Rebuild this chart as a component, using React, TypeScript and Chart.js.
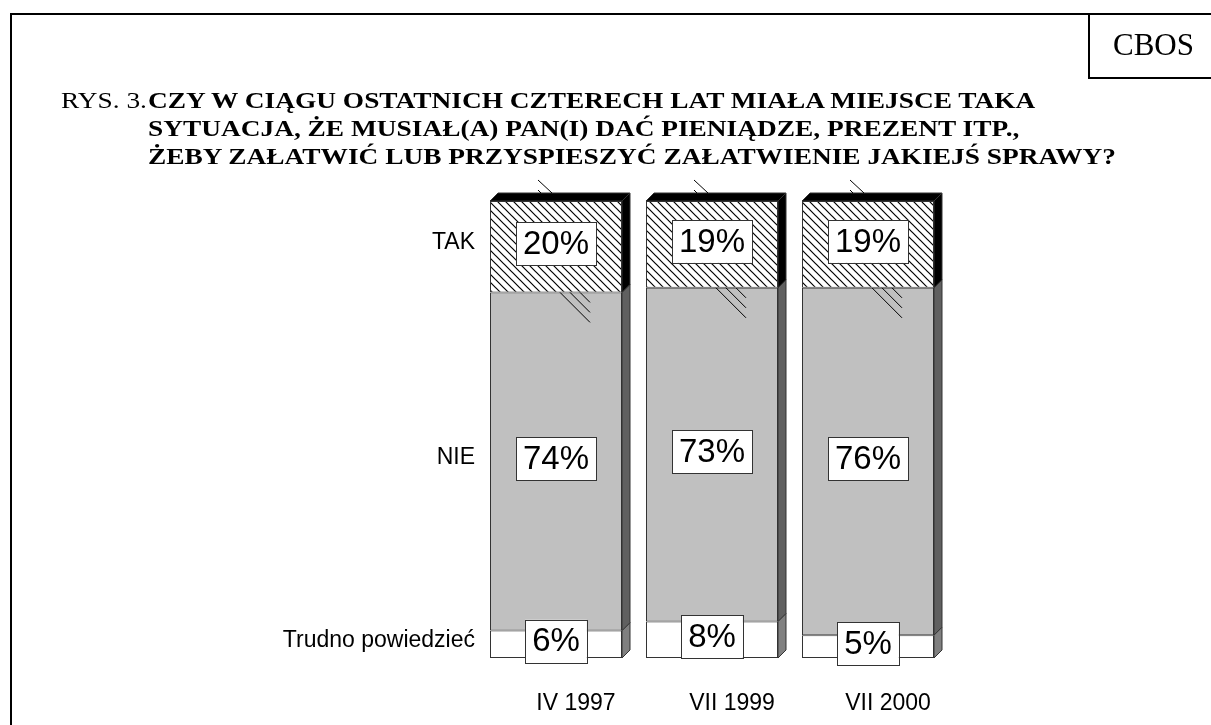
import React, { useEffect, useRef } from 'react';
import { Chart, registerables } from 'chart.js';

Chart.register(...registerables);

const categories = ['IV 1997', 'VII 1999', 'VII 2000'];
const seriesNames = ['Trudno powiedzieć', 'NIE', 'TAK'];
const trudnoValues = [6, 8, 5];
const nieValues = [74, 73, 76];
const takValues = [20, 19, 19];

const SANS = '"Liberation Sans", Arial, sans-serif';
const SERIF = '"Liberation Serif", "Times New Roman", serif';
const DEPTH = 8;
const sideColors = ['#808080', '#606060', '#000000'];

function makeHatch(ctx: CanvasRenderingContext2D): CanvasPattern | string {
  const c = document.createElement('canvas');
  c.width = 8;
  c.height = 8;
  const g = c.getContext('2d');
  if (!g) return '#fff';
  g.fillStyle = '#fff';
  g.fillRect(0, 0, 8, 8);
  g.strokeStyle = '#000';
  g.lineWidth = 1.2;
  g.beginPath();
  g.moveTo(-2, -2);
  g.lineTo(10, 10);
  g.moveTo(-2, 6);
  g.lineTo(2, 10);
  g.moveTo(6, -2);
  g.lineTo(10, 2);
  g.stroke();
  return ctx.createPattern(c, 'repeat') || '#fff';
}

const boxes3d = {
  id: 'boxes3d',
  afterDatasetsDraw(chart: any) {
    const ctx: CanvasRenderingContext2D = chart.ctx;
    const n = chart.data.labels.length;
    ctx.save();
    for (let j = 0; j < n; j++) {
      let topY = Infinity;
      let left = 0;
      let right = 0;
      for (let di = 0; di < chart.data.datasets.length; di++) {
        const el = chart.getDatasetMeta(di).data[j];
        const p = el.getProps(['x', 'y', 'base', 'width'], true);
        const r = p.x + p.width / 2;
        left = p.x - p.width / 2;
        right = r;
        const t = Math.min(p.y, p.base);
        const b = Math.max(p.y, p.base);
        topY = Math.min(topY, t);
        ctx.beginPath();
        ctx.moveTo(r, b);
        ctx.lineTo(r + DEPTH, b - DEPTH);
        ctx.lineTo(r + DEPTH, t - DEPTH);
        ctx.lineTo(r, t);
        ctx.closePath();
        ctx.fillStyle = sideColors[di];
        ctx.fill();
        ctx.strokeStyle = '#333';
        ctx.lineWidth = 1;
        ctx.stroke();
      }
      // top face
      ctx.beginPath();
      ctx.moveTo(left, topY);
      ctx.lineTo(left + DEPTH, topY - DEPTH);
      ctx.lineTo(right + DEPTH, topY - DEPTH);
      ctx.lineTo(right, topY);
      ctx.closePath();
      ctx.fillStyle = '#000';
      ctx.fill();
      ctx.stroke();

      // stray hatch strokes (as in the original print)
      const cx = (left + right) / 2;
      const tak = chart.getDatasetMeta(2).data[j].getProps(['y', 'base'], true);
      const bnd = Math.max(tak.y, tak.base);
      ctx.strokeStyle = '#000';
      ctx.lineWidth = 1;
      ctx.beginPath();
      ctx.moveTo(cx - 18, topY - 21);
      ctx.lineTo(cx - 4, topY - 8);
      ctx.moveTo(cx - 18, topY - 11);
      ctx.lineTo(cx - 15, topY - 8);
      ctx.moveTo(cx + 4, bnd);
      ctx.lineTo(cx + 34, bnd + 30);
      ctx.moveTo(cx + 14, bnd);
      ctx.lineTo(cx + 34, bnd + 20);
      ctx.moveTo(cx + 24, bnd);
      ctx.lineTo(cx + 34, bnd + 10);
      ctx.stroke();
    }

    // value labels
    ctx.font = `33px ${SANS}`;
    ctx.textAlign = 'center';
    ctx.textBaseline = 'middle';
    chart.data.datasets.forEach((ds: any, di: number) => {
      const meta = chart.getDatasetMeta(di);
      meta.data.forEach((el: any, j: number) => {
        const p = el.getProps(['x', 'y', 'base'], true);
        const cy = (p.y + p.base) / 2 - 3;
        const txt = `${ds.data[j]}%`;
        const w = ctx.measureText(txt).width + 14;
        const h = 43;
        ctx.fillStyle = '#fff';
        ctx.fillRect(p.x - w / 2, cy - h / 2, w, h);
        ctx.strokeStyle = '#333';
        ctx.lineWidth = 1;
        ctx.strokeRect(Math.round(p.x - w / 2) + 0.5, Math.round(cy - h / 2) + 0.5, Math.round(w), h);
        ctx.fillStyle = '#000';
        ctx.fillText(txt, p.x, cy + 1);
      });
    });

    // series names at the left of the first column
    ctx.font = `23px ${SANS}`;
    ctx.textAlign = 'right';
    chart.data.datasets.forEach((ds: any, di: number) => {
      const el = chart.getDatasetMeta(di).data[0];
      const p = el.getProps(['x', 'y', 'base', 'width'], true);
      const cy = (p.y + p.base) / 2;
      ctx.fillStyle = '#000';
      ctx.fillText(ds.label, p.x - p.width / 2 - 15, cy - 4);
    });
    ctx.restore();
  },
};

const titleStyle: React.CSSProperties = {
  position: 'absolute',
  top: 86,
  fontFamily: SERIF,
  fontSize: 24,
  lineHeight: '28px',
  whiteSpace: 'nowrap',
  transform: 'scaleX(1.14)',
  transformOrigin: 'left top',
};

export default function App() {
  const ref = useRef<HTMLCanvasElement>(null);

  useEffect(() => {
    const canvas = ref.current;
    if (!canvas) return;
    const ctx = canvas.getContext('2d');
    if (!ctx) return;
    const hatch = makeHatch(ctx);
    const chart = new Chart(canvas, {
      type: 'bar',
      data: {
        labels: categories,
        datasets: [
          { label: seriesNames[0], data: trudnoValues, backgroundColor: '#ffffff' },
          { label: seriesNames[1], data: nieValues, backgroundColor: '#c0c0c0' },
          { label: seriesNames[2], data: takValues, backgroundColor: hatch as any },
        ].map((d) => ({
          ...d,
          borderColor: '#333',
          borderWidth: 1,
          borderSkipped: false,
          categoryPercentage: 1,
          barPercentage: 132 / 156,
        })),
      },
      options: {
        animation: false,
        responsive: false,
        maintainAspectRatio: false,
        layout: { padding: { left: 478, right: 265, top: 201, bottom: 0 } },
        plugins: {
          legend: { display: false },
          tooltip: { enabled: false },
          title: { display: false },
        },
        scales: {
          x: {
            stacked: true,
            grid: { display: false, drawTicks: false },
            border: { display: false },
            ticks: { color: '#000', font: { family: SANS, size: 23 }, padding: 32, labelOffset: 20 },
            afterFit: (s: any) => {
              s.height = 67;
            },
          },
          y: {
            stacked: true,
            display: false,
            min: 0,
            max: 100,
          },
        },
      },
      plugins: [boxes3d],
    });
    return () => chart.destroy();
  }, []);

  return (
    <div style={{ position: 'absolute', left: 0, top: 0, width: 1211, height: 725, background: '#fff', overflow: 'hidden' }}>
      <canvas ref={ref} width={1211} height={725} style={{ position: 'absolute', left: 0, top: 0 }} />
      <div style={{ position: 'absolute', left: 10, top: 13, width: 1220, height: 730, borderTop: '2px solid #000', borderLeft: '2px solid #000' }} />
      <div
        style={{
          position: 'absolute',
          left: 1088,
          top: 13,
          width: 140,
          height: 66,
          borderLeft: '2px solid #000',
          borderBottom: '2px solid #000',
          fontFamily: SERIF,
          fontSize: 31,
          lineHeight: '64px',
          paddingLeft: 23,
          boxSizing: 'border-box',
        }}
      >
        CBOS
      </div>
      <div style={{ ...titleStyle, left: 61 }}>RYS. 3.</div>
      <div style={{ ...titleStyle, left: 148, fontWeight: 'bold' }}>
        CZY W CIĄGU OSTATNICH CZTERECH LAT MIAŁA MIEJSCE TAKA
        <br />
        SYTUACJA, ŻE MUSIAŁ(A) PAN(I) DAĆ PIENIĄDZE, PREZENT ITP.,
        <br />
        ŻEBY ZAŁATWIĆ LUB PRZYSPIESZYĆ ZAŁATWIENIE JAKIEJŚ SPRAWY?
      </div>
    </div>
  );
}
